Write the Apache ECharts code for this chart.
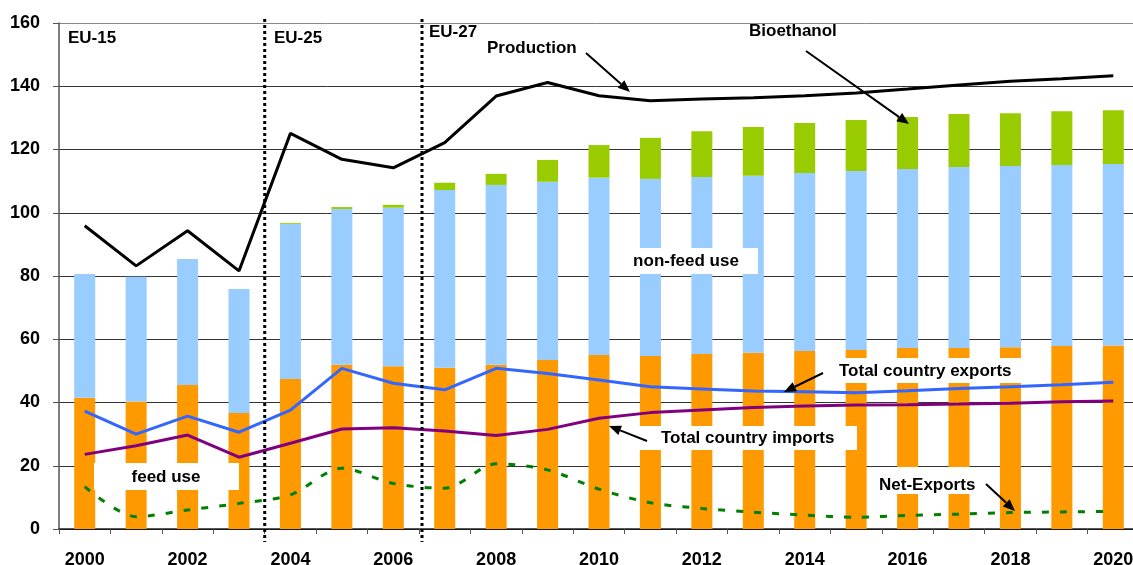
<!DOCTYPE html>
<html>
<head>
<meta charset="utf-8">
<script src="https://cdn.jsdelivr.net/npm/echarts@6/dist/echarts.min.js"></script>
<style>
  html, body { margin: 0; padding: 0; background: #fff; }
  #chart { width: 1133px; height: 565px; }
</style>
</head>
<body>
<div id="chart"></div>
<script>
const years = ['2000', '2001', '2002', '2003', '2004', '2005', '2006', '2007', '2008', '2009', '2010',
  '2011', '2012', '2013', '2014', '2015', '2016', '2017', '2018', '2019', '2020']

// stacked bars
const feedUse    = [41.5, 40.3, 45.5, 36.7, 47.4, 51.9, 51.5, 51.0, 51.9, 53.4, 55.0, 54.7, 55.3, 55.7, 56.3, 56.6, 57.2, 57.2, 57.5, 57.9, 58.0]
const nonFeedUse = [39.1, 39.5, 39.9, 39.2, 49.1, 49.3, 50.1, 56.2, 56.9, 56.4, 56.1, 56.0, 56.0, 56.0, 56.3, 56.6, 56.6, 57.3, 57.3, 57.2, 57.4]
const bioethanol = [0, 0, 0, 0, 0.3, 0.6, 0.9, 2.3, 3.5, 6.9, 10.3, 13.0, 14.5, 15.4, 15.8, 16.1, 16.5, 16.7, 16.7, 17.0, 17.0]

// lines
const production = [95.9, 83.2, 94.3, 81.6, 125.1, 116.9, 114.2, 122.2, 136.9, 141.2, 137.0, 135.4, 136.0, 136.4, 137.0, 137.9, 139.1, 140.4, 141.6, 142.4, 143.3]
const exportsTot = [37.3, 30.0, 35.7, 30.6, 37.6, 50.8, 46.1, 44.0, 50.8, 49.2, 47.1, 45.0, 44.3, 43.6, 43.4, 43.1, 43.7, 44.4, 45.0, 45.6, 46.4]
const importsTot = [23.6, 26.3, 29.7, 22.7, 27.1, 31.6, 32.0, 31.0, 29.6, 31.5, 35.0, 36.8, 37.6, 38.4, 38.9, 39.2, 39.3, 39.5, 39.8, 40.2, 40.5]
const netExports = [13.4, 3.9, 6.0, 8.1, 10.8, 19.2, 14.4, 12.9, 20.6, 18.7, 12.6, 8.3, 6.5, 5.3, 4.4, 3.7, 4.3, 4.7, 5.2, 5.4, 5.6]

// EU enlargement boundaries (between these category pairs)
const enlargements = [['2003', '2004'], ['2006', '2007']]

const FONT = 'Liberation Sans, Arial, sans-serif'
const COLORS = {
  feed: '#FF9900',
  nonFeed: '#99CCFF',
  bio: '#99CC00',
  production: '#000000',
  exports: '#3366FF',
  imports: '#800080',
  net: '#008000',
}

const chart = echarts.init(document.getElementById('chart'), null, { renderer: 'canvas' })

const bar = (name, data, color) => ({
  name, type: 'bar', stack: 'use', data, barWidth: 21,
  itemStyle: { color }, z: 2,
})
const line = (name, data, color, extra = {}) => ({
  name, type: 'line', data, symbol: 'none', z: 5,
  lineStyle: { color, width: 3 }, itemStyle: { color },
  ...extra,
})

chart.setOption({
  animation: false,
  backgroundColor: '#fff',
  textStyle: { fontFamily: FONT },
  grid: { left: 59, top: 23, width: 1080, height: 506, containLabel: false, outerBoundsMode: 'none' },
  xAxis: {
    type: 'category', data: years, boundaryGap: true,
    axisLine: { lineStyle: { color: '#222', width: 1.5 } },
    axisTick: { show: true, interval: 0, length: 5, lineStyle: { color: '#555' } },
    axisLabel: { interval: 1, color: '#000', fontSize: 18, fontWeight: 'bold', fontFamily: FONT, margin: 22 },
  },
  yAxis: {
    type: 'value', min: 0, max: 160, interval: 20,
    axisLine: { show: true, lineStyle: { color: '#555', width: 1.5 } },
    axisTick: { show: true, length: 6, lineStyle: { color: '#555' } },
    axisLabel: { color: '#000', fontSize: 18, fontWeight: 'bold', fontFamily: FONT, margin: 19 },
    splitLine: { lineStyle: { color: ['#000', '#333', '#333', '#333', '#333', '#333', '#333', '#333', '#888'], width: 1 } },
  },
  series: [
    bar('feed use', feedUse, COLORS.feed),
    bar('non-feed use', nonFeedUse, COLORS.nonFeed),
    bar('Bioethanol', bioethanol, COLORS.bio),
    line('Production', production, COLORS.production),
    line('Total country exports', exportsTot, COLORS.exports),
    line('Total country imports', importsTot, COLORS.imports),
    line('Net-Exports', netExports, COLORS.net, { smooth: 0.3, lineStyle: { color: COLORS.net, width: 3, type: [7, 11] } }),
  ],
})

// ---- annotations ----
function label(text, x, y, align = 'left') {
  return {
    type: 'text', z: 20, x, y,
    style: { text, fill: '#000', font: `bold 17px ${FONT}`, align, verticalAlign: 'middle' },
  }
}
function box(x1, y1, x2, y2) {
  return { type: 'rect', z: 19, shape: { x: x1, y: y1, width: x2 - x1, height: y2 - y1 }, style: { fill: '#fff' } }
}
function arrow(x1, y1, x2, y2) {
  const ang = Math.atan2(y2 - y1, x2 - x1)
  const hl = 12, hw = 5
  const bx = x2 - hl * Math.cos(ang), by = y2 - hl * Math.sin(ang)
  const nx = -Math.sin(ang), ny = Math.cos(ang)
  return [
    { type: 'line', z: 21, shape: { x1, y1, x2: bx, y2: by }, style: { stroke: '#000', lineWidth: 2 } },
    { type: 'polygon', z: 21, shape: { points: [[x2, y2], [bx + nx * hw, by + ny * hw], [bx - nx * hw, by - ny * hw]] }, style: { fill: '#000' } },
  ]
}

const graphics = []
enlargements.forEach(([a, b], i) => {
  const xa = chart.convertToPixel({ xAxisIndex: 0 }, a)
  const xb = chart.convertToPixel({ xAxisIndex: 0 }, b)
  const x = (xa + xb) / 2 + (i === 1 ? 3 : 0)
  graphics.push({
    type: 'line', z: 15, shape: { x1: x, y1: 19, x2: x, y2: 542 },
    style: { stroke: '#000', lineWidth: 3, lineDash: [3, 3] },
  })
})

graphics.push(
  label('EU-15', 68, 38),
  label('EU-25', 274, 38),
  label('EU-27', 429, 32),
  label('Production', 487, 48),
  label('Bioethanol', 749, 31),
  box(94, 463, 239, 490), label('feed use', 166, 477, 'center'),
  box(610, 248, 758, 274), label('non-feed use', 686, 261.5, 'center'),
  box(636, 426, 857, 450), label('Total country imports', 661, 438),
  box(817, 358, 1034, 383), label('Total country exports', 839, 371.5),
  box(870, 467, 984, 494), label('Net-Exports', 879, 485),
  ...arrow(586, 53, 630, 92),
  ...arrow(806, 51, 909, 124),
  ...arrow(823, 373, 784, 392),
  ...arrow(647, 441, 609, 426),
  ...arrow(986, 484, 1015, 511),
)

chart.setOption({ graphic: graphics })
</script>
</body>
</html>
